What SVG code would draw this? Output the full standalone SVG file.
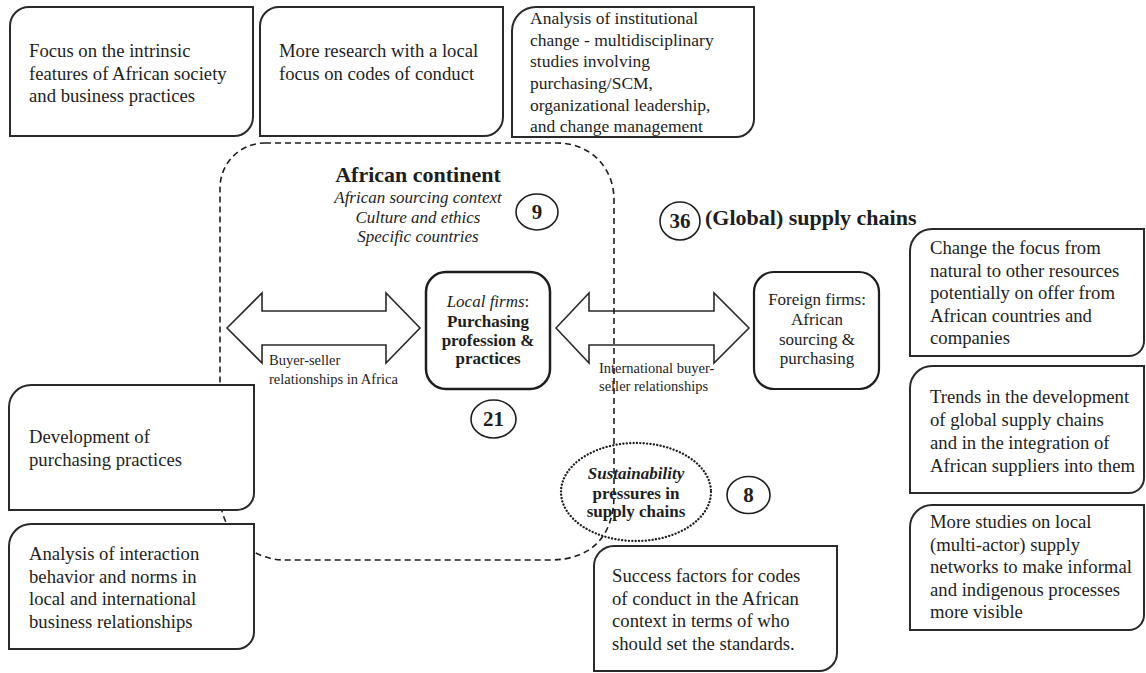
<svg xmlns="http://www.w3.org/2000/svg" width="1146" height="673" viewBox="0 0 1146 673">
<style>
  text { font-family: "Liberation Serif", "Times New Roman", serif; fill: #1e1e1e; }
  .t { font-size: 18.7px; }
  .t3 { font-size: 17.5px; }
  .box { fill: #fff; stroke: #2a2a2a; stroke-width: 2; }
  .firm { fill: #fff; stroke: #1e1e1e; stroke-width: 2.5; }
  .num { fill: #fff; stroke: #1e1e1e; stroke-width: 1.6; }
  .numt { font-size: 21px; font-weight: bold; text-anchor: middle; }
  .head { font-size: 22px; font-weight: bold; }
  .ctx { font-size: 17px; font-style: italic; text-anchor: middle; }
  .mid { font-size: 17px; text-anchor: middle; }
  .lbl { font-size: 14.5px; }
  .arrow { fill: #fff; stroke: #2a2a2a; stroke-width: 1.6; stroke-linejoin: miter; }
  .dash { fill: none; stroke: #1e1e1e; stroke-width: 1.6; stroke-dasharray: 6 4; }
  .dots { fill: #fff; stroke: #1e1e1e; stroke-width: 2.3; stroke-dasharray: 0.1 3.3; stroke-linecap: round; }
</style>

<g id="top-box-1">
  <path class="box" d="M10,26 A19,19 0 0 1 29,7 L253,7 L253,117 A19,19 0 0 1 234,136 L10,136 Z"/>
  <text class="t" x="29" y="57">Focus on the intrinsic</text>
  <text class="t" x="29" y="79.5">features of African society</text>
  <text class="t" x="29" y="102">and business practices</text>
</g>
<g id="top-box-2">
  <path class="box" d="M260,26 A19,19 0 0 1 279,7 L503,7 L503,117 A19,19 0 0 1 484,136 L260,136 Z"/>
  <text class="t" x="279" y="57">More research with a local</text>
  <text class="t" x="279" y="79.5">focus on codes of conduct</text>
</g>
<g id="top-box-3">
  <path class="box" d="M512,31 A24,24 0 0 1 536,7 L754,7 L754,119 A18,18 0 0 1 736,137 L512,137 Z"/>
  <text class="t3" x="530" y="24">Analysis of institutional</text>
  <text class="t3" x="530" y="45.7">change - multidisciplinary</text>
  <text class="t3" x="530" y="67.4">studies involving</text>
  <text class="t3" x="530" y="89">purchasing/SCM,</text>
  <text class="t3" x="530" y="110.7">organizational leadership,</text>
  <text class="t3" x="530" y="132.4">and change management</text>
</g>

<g id="african-continent-title">
  <text class="head" x="418" y="182" text-anchor="middle">African continent</text>
  <text class="ctx" x="418" y="203">African sourcing context</text>
  <text class="ctx" x="418" y="223">Culture and ethics</text>
  <text class="ctx" x="418" y="242">Specific countries</text>
</g>
<g id="num-9">
  <ellipse class="num" cx="537" cy="212" rx="21" ry="18"/>
  <text class="numt" x="537" y="219">9</text>
</g>
<g id="global-title">
  <ellipse class="num" cx="680" cy="221" rx="20" ry="19"/>
  <text class="numt" x="680" y="228">36</text>
  <text class="head" x="705" y="225">(Global) supply chains</text>
</g>

<g id="connectors">
  <polygon class="arrow" points="227,328 262,293 262,311 386,311 386,293 420,328 386,363 386,345 262,345 262,363"/>
  <text class="lbl" x="269" y="365">Buyer-seller</text>
  <text class="lbl" x="269" y="384">relationships  in Africa</text>
  <polygon class="arrow" points="556,328 589,293 589,311 714,311 714,293 749,328 714,363 714,345 589,345 589,363"/>
  <text class="lbl" x="599" y="373">International buyer-</text>
  <text class="lbl" x="599" y="391">seller relationships</text>
</g>

<g id="local-firms">
  <rect class="firm" x="426" y="272" width="124" height="117" rx="20"/>
  <text class="mid" x="488" y="307"><tspan font-style="italic">Local firms</tspan>:</text>
  <text class="mid" x="488" y="327" font-weight="bold">Purchasing</text>
  <text class="mid" x="488" y="346" font-weight="bold">profession &amp;</text>
  <text class="mid" x="488" y="364" font-weight="bold">practices</text>
</g>
<g id="foreign-firms">
  <rect class="firm" x="754" y="272" width="125" height="117" rx="20" style="stroke-width:2.2"/>
  <text class="mid" x="817" y="305">Foreign firms:</text>
  <text class="mid" x="817" y="325">African</text>
  <text class="mid" x="817" y="345">sourcing &amp;</text>
  <text class="mid" x="817" y="364">purchasing</text>
</g>
<g id="num-21">
  <ellipse class="num" cx="493.5" cy="419" rx="22.5" ry="19"/>
  <text class="numt" x="493.5" y="426">21</text>
</g>

<g id="sustainability">
  <ellipse class="dots" cx="636" cy="492" rx="75" ry="49"/>
  <text class="mid" x="636" y="479" font-weight="bold" font-style="italic">Sustainability</text>
  <text class="mid" x="636" y="499" font-weight="bold">pressures in</text>
  <text class="mid" x="636" y="517" font-weight="bold">supply chains</text>
</g>
<g id="num-8">
  <ellipse class="num" cx="748.5" cy="495" rx="21.5" ry="18.5"/>
  <text class="numt" x="748.5" y="502">8</text>
</g>

<g id="africa-boundary">
  <path class="dash" d="M265,143 L557,143 C590,143 614,167 614,200 L614,495 C614,535 592,560 550,560 L285,560 A65,65 0 0 1 220,495 L220,188 A45,45 0 0 1 265,143 Z"/>
</g>

<g id="left-box-1">
  <path class="box" d="M9,407 A22,22 0 0 1 31,385 L254,385 L254,493 A17,17 0 0 1 237,510 L9,510 Z"/>
  <text class="t" x="29" y="443">Development of</text>
  <text class="t" x="29" y="466">purchasing practices</text>
</g>
<g id="left-box-2">
  <path class="box" d="M9,546 A22,22 0 0 1 31,524 L254,524 L254,632 A17,17 0 0 1 237,649 L9,649 Z"/>
  <text class="t" x="29" y="560">Analysis  of interaction</text>
  <text class="t" x="29" y="582.5">behavior and norms in</text>
  <text class="t" x="29" y="605">local and international</text>
  <text class="t" x="29" y="627.5">business relationships</text>
</g>

<g id="success-box">
  <path class="box" d="M594,566 A20,20 0 0 1 614,546 L837,546 L837,653 A18,18 0 0 1 819,671 L594,671 Z"/>
  <text class="t" x="612" y="582">Success factors for codes</text>
  <text class="t" x="612" y="605">of conduct in the African</text>
  <text class="t" x="612" y="627">context in terms of who</text>
  <text class="t" x="612" y="650">should set the standards.</text>
</g>

<g id="right-box-1">
  <path class="box" d="M910,251 A22,22 0 0 1 932,229 L1144,229 L1144,341 A15,15 0 0 1 1129,356 L910,356 Z"/>
  <text class="t" x="930" y="254">Change the focus from</text>
  <text class="t" x="930" y="276.5">natural to other resources</text>
  <text class="t" x="930" y="299">potentially on offer from</text>
  <text class="t" x="930" y="321.5">African countries and</text>
  <text class="t" x="930" y="344">companies</text>
</g>
<g id="right-box-2">
  <path class="box" d="M910,388 A22,22 0 0 1 932,366 L1144,366 L1144,478 A15,15 0 0 1 1129,493 L910,493 Z"/>
  <text class="t" x="930" y="403">Trends in the development</text>
  <text class="t" x="930" y="426">of global supply chains</text>
  <text class="t" x="930" y="449">and in the integration of</text>
  <text class="t" x="930" y="472">African suppliers into them</text>
</g>
<g id="right-box-3">
  <path class="box" d="M910,527 A22,22 0 0 1 932,505 L1144,505 L1144,615 A15,15 0 0 1 1129,630 L910,630 Z"/>
  <text class="t" x="930" y="528">More studies on local</text>
  <text class="t" x="930" y="550.5">(multi-actor) supply</text>
  <text class="t" x="930" y="573">networks to make informal</text>
  <text class="t" x="930" y="595.5">and indigenous processes</text>
  <text class="t" x="930" y="618">more visible</text>
</g>
</svg>
